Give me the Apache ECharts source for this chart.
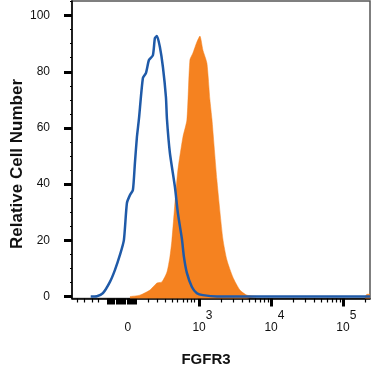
<!DOCTYPE html>
<html>
<head>
<meta charset="utf-8">
<script src="https://cdn.jsdelivr.net/npm/echarts@6/dist/echarts.min.js"></script>
<style>html,body{margin:0;padding:0;background:#fff}#c{width:372px;height:373px}</style>
</head>
<body>
<div id="c"></div>
<script>
// x values are in axis display units (biexponential decades: 10^3 -> 3, 10^4 -> 4, 10^5 -> 5, "0" -> ~2.0)
const blueX = [1.49, 1.576, 1.660, 1.757, 1.826, 1.896, 1.951, 1.993, 2.035, 2.076, 2.104, 2.132, 2.160, 2.215, 2.257, 2.299, 2.354, 2.382, 2.410, 2.451, 2.493, 2.535, 2.549, 2.590, 2.660, 2.701, 2.757, 2.785, 2.826, 2.896, 2.965, 3.049, 3.243, 5.37];
const blueY = [0, 0.1, 1.2, 5.2, 9.4, 14.8, 20.1, 33.3, 36.1, 37.9, 47.5, 56.8, 63.2, 77.8, 79.5, 84.2, 85.9, 92.0, 92.7, 88.8, 81.7, 71.0, 63.2, 51.1, 39.0, 29.7, 20.5, 14.1, 8.4, 3.4, 1.2, 0.5, 0, 0];
// null marks an empty stretch (no events) between the main peak and the far-right bump
const orangeX = [2.035, 2.174, 2.313, 2.410, 2.479, 2.549, 2.590, 2.618, 2.660, 2.701, 2.771, 2.826, 2.868, 2.910, 2.965, 3.007, 3.049, 3.104, 3.146, 3.174, 3.243, 3.326, 3.382, 3.465, 3.563, 3.660, 3.840, 4.5, 5.30, 5.33, 5.37];
const orangeY = [0, 0.5, 2.3, 4.8, 5.2, 8.7, 14.1, 20.1, 33.3, 45.0, 56.8, 62.8, 84.2, 86.7, 90.6, 92.7, 87.7, 83.1, 70.0, 63.2, 41.5, 20.5, 13.0, 6.9, 2.3, 0.5, 0, null, 0, 0.8, 0.8];
const xLabelValues = [2.007, 3, 4, 5];
const xLabelTexts = ['0', '10^3', '10^4', '10^5'];
const xMinorTicks = [1.299, 1.396, 1.507, 1.590, 2.285, 2.410, 2.521, 2.618, 2.688, 2.771, 2.826, 2.882, 2.924,
  3.301, 3.477, 3.602, 3.699, 3.778, 3.845, 3.903, 3.954,
  4.301, 4.477, 4.602, 4.699, 4.778, 4.845, 4.903, 4.954, 5.301];
const xZeroTicks = [1.729, 1.757, 1.785, 1.813, 1.854, 1.882, 1.910, 1.938, 1.965, 2.007, 2.035, 2.063, 2.090, 2.118];
const yMajor = [0, 20, 40, 60, 80, 100];
const yMinor = [5, 10, 15, 25, 30, 35, 45, 50, 55, 65, 70, 75, 85, 90, 95, 105];
const xTitle = 'FGFR3';
const yTitle = 'Relative Cell Number';

const XMIN = 1.23, XMAX = 5.37, YMIN = -0.7, YMAX = 105.2;
const font = '"Liberation Sans", Arial, Helvetica, sans-serif';
const pair = (xs, ys) => xs.map((x, i) => [x, ys[i] === null ? '-' : ys[i]]);

const chart = echarts.init(document.getElementById('c'), null, {renderer: 'canvas'});
const hidden = {show: false};
const noLine = {show: false, onZero: false};
chart.setOption({
  animation: false,
  grid: {left: 72, right: 2, top: 1, bottom: 74.5, show: true, borderColor: '#555', borderWidth: 1.5, backgroundColor: '#fff'},
  xAxis: [
    {type: 'value', position: 'bottom', min: XMIN, max: XMAX, splitLine: hidden,
     axisLine: {show: true, onZero: false, lineStyle: {color: '#000', width: 1.5}},
     axisTick: {show: true, customValues: [3, 4, 5], length: 8, lineStyle: {color: '#000', width: 3}},
     axisLabel: {show: true, customValues: xLabelValues, margin: 11, color: '#111', fontFamily: font,
       formatter: v => {
         let i = xLabelValues.findIndex(t => Math.abs(t - v) < 1e-6);
         let s = xLabelTexts[i];
         if (s.indexOf('^') >= 0) { const p = s.split('^'); return '{b|' + p[0] + '}{s|' + p[1] + '}'; }
         return '{z|' + s + '}';
       },
       rich: {
         b: {fontSize: 12, fontFamily: font, color: '#111', lineHeight: 24, verticalAlign: 'bottom', padding: [0, 0, 0, 6]},
         s: {fontSize: 12, fontFamily: font, color: '#111', lineHeight: 24, verticalAlign: 'top'},
         z: {fontSize: 12, fontFamily: font, color: '#111', lineHeight: 24, verticalAlign: 'bottom'}
       }}},
    {type: 'value', position: 'bottom', offset: 0, min: XMIN, max: XMAX, splitLine: hidden, axisLine: noLine, axisLabel: hidden,
     axisTick: {show: true, customValues: xMinorTicks, length: 4, lineStyle: {color: '#000', width: 1.2}}},
    {type: 'value', position: 'bottom', offset: 0, min: XMIN, max: XMAX, splitLine: hidden, axisLine: noLine, axisLabel: hidden,
     axisTick: {show: true, customValues: xZeroTicks, length: 6, lineStyle: {color: '#000', width: 2}}}
  ],
  yAxis: [
    {type: 'value', position: 'left', min: YMIN, max: YMAX, splitLine: hidden,
     axisLine: {show: true, onZero: false, lineStyle: {color: '#000', width: 1.5}},
     axisTick: {show: true, customValues: yMajor, length: 8, lineStyle: {color: '#000', width: 3}},
     axisLabel: {show: true, customValues: yMajor, margin: 22, fontSize: 12, color: '#111', fontFamily: font}},
    {type: 'value', position: 'left', offset: 0, min: YMIN, max: YMAX, splitLine: hidden, axisLine: noLine, axisLabel: hidden,
     axisTick: {show: true, customValues: yMinor, length: 2, lineStyle: {color: '#000', width: 1.2}}}
  ],
  series: [
    {type: 'line', data: pair(orangeX, orangeY), xAxisIndex: 0, yAxisIndex: 0, showSymbol: false, smooth: 0.2, connectNulls: false,
     lineStyle: {width: 0.5, color: '#F58220'}, areaStyle: {color: '#F58220', opacity: 1, origin: 'start'}, z: 2},
    {type: 'line', data: pair(blueX, blueY), xAxisIndex: 0, yAxisIndex: 0, showSymbol: false, smooth: 0.2,
     lineStyle: {width: 2.5, color: '#1F5AA8'}, z: 3}
  ],
  graphic: [
    {type: 'text', x: 206, y: 360, style: {text: xTitle, font: 'bold 15px ' + font, fill: '#111', align: 'center', verticalAlign: 'middle'}},
    {type: 'text', x: 17, y: 164, rotation: Math.PI / 2, style: {text: yTitle, font: 'bold 17px ' + font, fill: '#111', align: 'center', verticalAlign: 'middle'}}
  ]
});
</script>
</body>
</html>
